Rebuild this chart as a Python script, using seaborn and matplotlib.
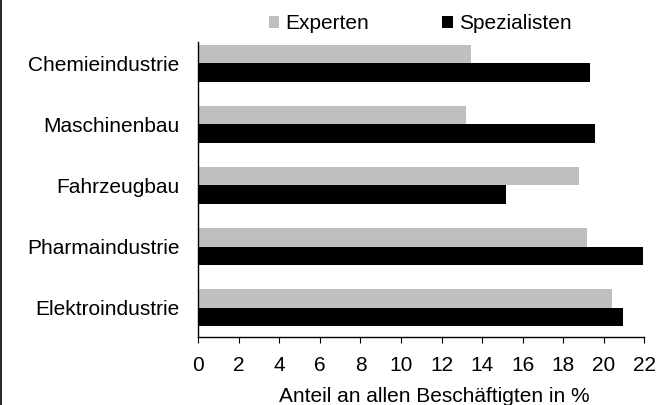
import matplotlib
matplotlib.use("Agg")
import matplotlib.pyplot as plt
from matplotlib.lines import Line2D
import seaborn as sns
import pandas as pd

# values (share of all employees, %)
branchen = ["Chemieindustrie", "Maschinenbau", "Fahrzeugbau",
            "Pharmaindustrie", "Elektroindustrie"]
experten = [13.45, 13.2, 18.8, 19.15, 20.4]
spezialisten = [19.3, 19.55, 15.2, 21.95, 20.95]
xticks = list(range(0, 23, 2))

df = pd.DataFrame({
    "Branche": branchen * 2,
    "Anteil": experten + spezialisten,
    "Gruppe": ["Experten"] * len(branchen) + ["Spezialisten"] * len(branchen),
})

sns.set_theme(style="white")
plt.rcParams.update({
    "font.family": ["Liberation Sans", "DejaVu Sans"],
    "font.size": 15,
    "text.color": "#000000",
    "axes.labelcolor": "#000000",
    "xtick.color": "#000000",
    "ytick.color": "#000000",
})

fig = plt.figure(figsize=(6.7, 4.05), dpi=100)
ax = fig.add_axes([0.296, 0.168, 0.6656, 0.7284])

sns.barplot(data=df, x="Anteil", y="Branche", hue="Gruppe", orient="h",
            order=branchen, hue_order=["Experten", "Spezialisten"],
            palette={"Experten": "#bfbfbf", "Spezialisten": "#000000"},
            width=0.61, gap=0, linewidth=0, ax=ax)

handles, labels = ax.get_legend_handles_labels()
ax.get_legend().remove()
fig.legend(handles, labels, loc="center", bbox_to_anchor=(0.627, 0.941),
           ncol=2, frameon=False, fontsize=15, handlelength=0.51,
           handleheight=0.51, handletextpad=0.29, columnspacing=3.5,
           borderaxespad=0, borderpad=0)

ax.set_xlim(0, 22)
ax.set_ylim(4.48, -0.35)
ax.set_xticks(xticks)
ax.set_xticklabels([str(t) for t in xticks], fontsize=15)
ax.tick_params(axis="x", bottom=True, length=4.3, width=0.8, color="#000000",
               direction="out", pad=9.5)
ax.tick_params(axis="y", left=False, length=0, pad=13.7, labelsize=15)
ax.set_ylabel("")
ax.set_xlabel("Anteil an allen Beschäftigten in %", fontsize=15)
ax.xaxis.set_label_coords(0.529, -0.168)
ax.xaxis.label.set_verticalalignment("top")

for side in ["top", "right"]:
    ax.spines[side].set_visible(False)
for side in ["left", "bottom"]:
    ax.spines[side].set_color("#000000")
    ax.spines[side].set_linewidth(1.0)

# thin frame line at the left edge of the picture
fig.add_artist(Line2D([0.0012, 0.0012], [0, 1], color="#000000", linewidth=1.2,
                      transform=fig.transFigure))

fig.savefig("out.png", dpi=100)
